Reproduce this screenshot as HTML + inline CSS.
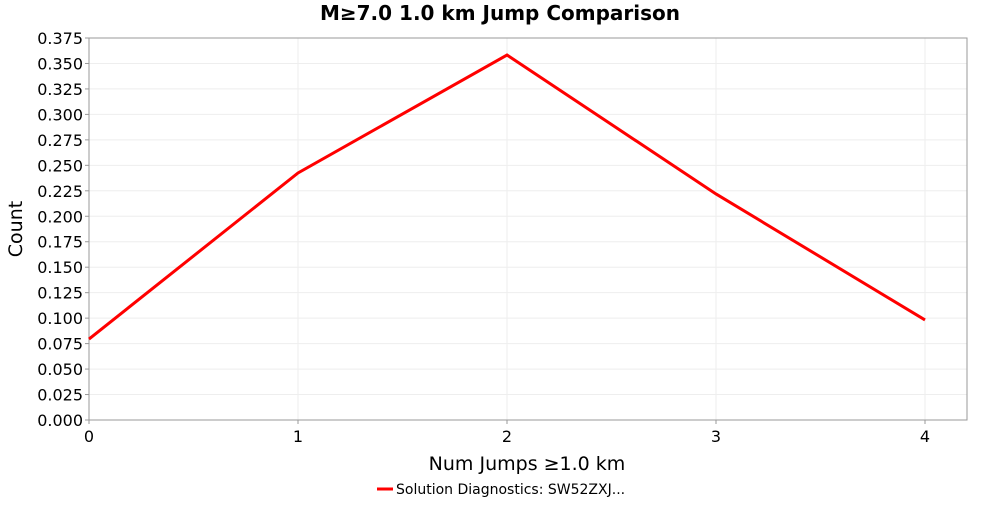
<!DOCTYPE html>
<html><head><meta charset="utf-8"><style>
body{margin:0;background:#fff;font-family:"Liberation Sans","DejaVu Sans",sans-serif;}
svg text{font-family:"DejaVu Sans","Liberation Sans",sans-serif;}
</style></head><body>
<svg id="chart" width="1000" height="500" xmlns="http://www.w3.org/2000/svg">
<rect width="1000" height="500" fill="#fff"/>
<text x="500" y="20" text-anchor="middle" font-size="20" font-weight="bold">M≥7.0 1.0 km Jump Comparison</text>
<g id="grid"></g>
<rect x="89" y="38" width="878" height="382" fill="none" stroke="#999"/>
<g id="axes"></g>
<text x="527" y="470" text-anchor="middle" font-size="19">Num Jumps ≥1.0 km</text>
<text transform="translate(22,229) rotate(-90)" text-anchor="middle" font-size="19">Count</text>
<g>
<line x1="377" y1="489" x2="393" y2="489" stroke="#f00" stroke-width="3"/>
<text x="396" y="494" font-size="14">Solution Diagnostics: SW52ZXJ...</text>
</g>
<g id="series"></g>
</svg>
<script>
const categories=[0,1,2,3,4];
const values=[0.0795,0.2425,0.3583,0.2219,0.0982];
const yTicks=[0,0.025,0.05,0.075,0.1,0.125,0.15,0.175,0.2,0.225,0.25,0.275,0.3,0.325,0.35,0.375];
const xTicks=[0,1,2,3,4];
const NS="http://www.w3.org/2000/svg";
const X=v=>89+v*209, Y=v=>420-v/0.375*382;
const grid=document.getElementById('grid'),axes=document.getElementById('axes'),series=document.getElementById('series');
function mk(tag,attrs,parent){const e=document.createElementNS(NS,tag);for(const k in attrs)e.setAttribute(k,attrs[k]);parent.appendChild(e);return e;}
yTicks.forEach(t=>{
 const g=mk('line',{x1:89,x2:967,y1:Y(t),y2:Y(t),stroke:'#eeeeee','stroke-width':1},grid);
 
 
 const tx=mk('text',{x:83,y:Y(t)+6,'text-anchor':'end','font-size':16},axes);
 tx.textContent=t.toFixed(3);
 
 
 mk('line',{x1:85,x2:89,y1:Y(t),y2:Y(t),stroke:'#999'},axes);
});
xTicks.forEach(t=>{
 const g=mk('line',{x1:X(t),x2:X(t),y1:38,y2:420,stroke:'#eeeeee'},grid);
 
 
 const tx=mk('text',{x:X(t),y:442,'text-anchor':'middle','font-size':16},axes);
 tx.textContent=t;
 
 
 mk('line',{x1:X(t),x2:X(t),y1:420,y2:424,stroke:'#999'},axes);
});
const pl=mk('polyline',{points:categories.map((c,i)=>X(c)+','+Y(values[i])).join(' '),fill:'none',stroke:'#f00','stroke-width':3},series);


</script>
</body></html>
